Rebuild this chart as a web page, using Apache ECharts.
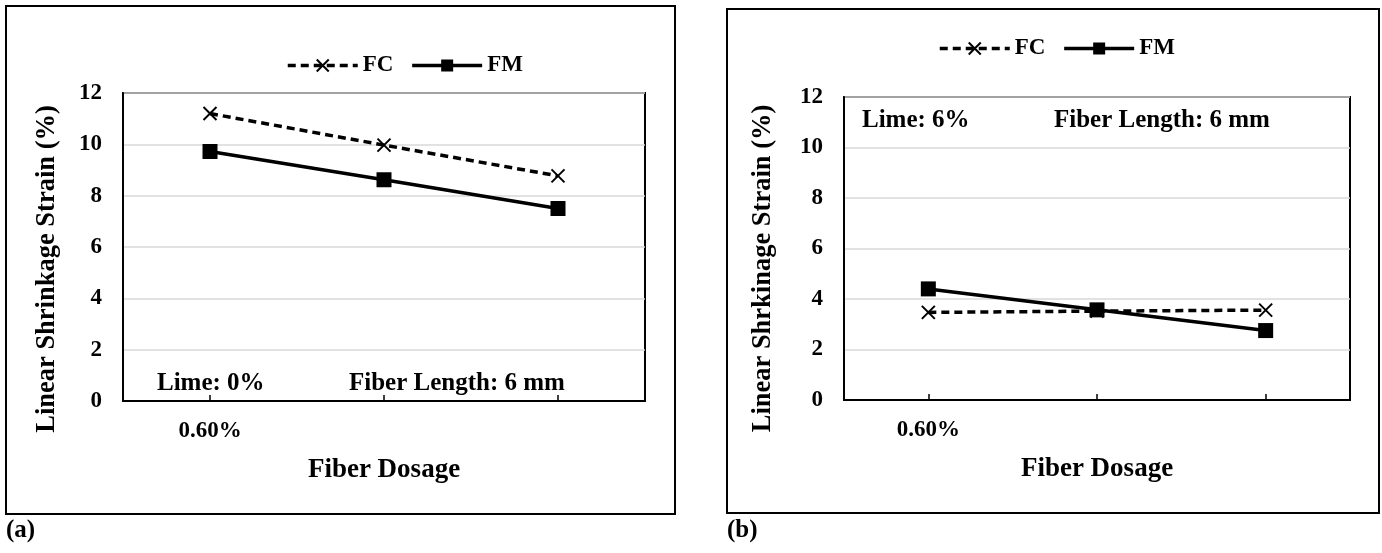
<!DOCTYPE html>
<html>
<head>
<meta charset="utf-8">
<script src="https://cdn.jsdelivr.net/npm/echarts@6/dist/echarts.min.js"></script>
<style>
html,body{margin:0;padding:0;background:#fff;}
#c{width:1382px;height:553px;}
</style>
</head>
<body>
<div id="c"></div>
<script>
// ---- data ----
const categories = ['0.60%', '', ''];
const yTicks = [0, 2, 4, 6, 8, 10, 12];
const fcA = [11.2, 9.97, 8.77];
const fmA = [9.72, 8.62, 7.5];
const fcB = [3.47, 3.52, 3.56];
const fmB = [4.4, 3.57, 2.75];
const seriesNames = ['FC', 'FM'];
const yNameA = 'Linear Shrinkage Strain (%)';
const yNameB = 'Linear Shrkinage Strain (%)';
const xName = 'Fiber Dosage';
const notesA = ['Lime: 0%', 'Fiber Length: 6 mm'];
const notesB = ['Lime: 6%', 'Fiber Length: 6 mm'];
const panelLabels = ['(a)', '(b)'];

const FONT = '"Liberation Serif", "Times New Roman", serif';
const crossPath = 'path://M0,0L10,10M10,0L0,10';

function xAxis(gi) {
  return {
    type: 'category', gridIndex: gi, data: categories, boundaryGap: true,
    name: xName, nameLocation: 'middle', nameGap: 56,
    nameTextStyle: {fontFamily: FONT, fontWeight: 'bold', fontSize: 27, color: '#000'},
    axisLine: {lineStyle: {color: '#000', width: 2}},
    axisTick: {show: true, inside: true, alignWithLabel: true, length: 6, lineStyle: {color: '#000', width: 1.5}},
    axisLabel: {fontFamily: FONT, fontWeight: 'bold', fontSize: 23, color: '#000', margin: 19},
    splitLine: {show: false}
  };
}
function yAxis(gi, name, gap, shift) {
  return {
    type: 'value', gridIndex: gi, min: yTicks[0], max: yTicks[yTicks.length - 1], interval: 2,
    name: name, nameLocation: 'middle', nameGap: gap,
    nameTextStyle: {fontFamily: FONT, fontWeight: 'bold', fontSize: 26.5, color: '#000', padding: [0, shift, 0, 0]},
    axisLine: {show: true, lineStyle: {color: '#000', width: 2}},
    axisTick: {show: false},
    axisLabel: {fontFamily: FONT, fontWeight: 'bold', fontSize: 23, color: '#000', margin: 21},
    splitLine: {show: true, lineStyle: {color: '#d9d9d9', width: 1.5}}
  };
}
function fcSeries(gi, data) {
  return {
    name: seriesNames[0], type: 'line', xAxisIndex: gi, yAxisIndex: gi, data: data,
    symbol: crossPath, symbolSize: 13,
    itemStyle: {color: '#000', borderColor: '#000', borderWidth: 2},
    lineStyle: {color: '#000', width: 3.5, type: [8, 5]},
    animation: false, z: 3
  };
}
function fmSeries(gi, data) {
  return {
    name: seriesNames[1], type: 'line', xAxisIndex: gi, yAxisIndex: gi, data: data,
    symbol: 'rect', symbolSize: 15,
    itemStyle: {color: '#000'},
    lineStyle: {color: '#000', width: 3.5, type: 'solid'},
    animation: false, z: 4
  };
}
function legend(left, top) {
  return {
    left: left, top: top, orient: 'horizontal', itemWidth: 70, itemHeight: 15, itemGap: 17,
    lineStyle: {width: 3.5},
    textStyle: {fontFamily: FONT, fontWeight: 'bold', fontSize: 23, color: '#000', padding: [0, 0, 0, 0]},
    data: seriesNames
  };
}

const chart = echarts.init(document.getElementById('c'), null, {renderer: 'canvas'});
const option = {
  backgroundColor: '#fff',
  animation: false,
  legend: [legend(281, 49), legend(933, 32)],
  grid: [
    {left: 123, top: 93, width: 522, height: 308, show: true, borderColor: '#000', borderWidth: 2, containLabel: false},
    {left: 844, top: 97, width: 506, height: 303, show: true, borderColor: '#000', borderWidth: 2, containLabel: false}
  ],
  xAxis: [xAxis(0), xAxis(1)],
  yAxis: [yAxis(0, yNameA, 62, 44), yAxis(1, yNameB, 67, 40)],
  series: [fcSeries(0, fcA), fmSeries(0, fmA), fcSeries(1, fcB), fmSeries(1, fmB)],
  graphic: [
    {type: 'rect', shape: {x: 6, y: 6, width: 669, height: 508}, style: {fill: 'none', stroke: '#000', lineWidth: 2}, silent: true},
    {type: 'rect', shape: {x: 727, y: 9, width: 652, height: 504}, style: {fill: 'none', stroke: '#000', lineWidth: 2}, silent: true},
    {type: 'text', left: 6, top: 518, style: {text: panelLabels[0], fill: '#000', font: 'bold 25px ' + FONT}},
    {type: 'text', left: 727, top: 518, style: {text: panelLabels[1], fill: '#000', font: 'bold 25px ' + FONT}},
    {type: 'text', left: 157, top: 371, style: {text: notesA[0], fill: '#000', font: 'bold 25px ' + FONT}},
    {type: 'text', left: 349, top: 371, style: {text: notesA[1], fill: '#000', font: 'bold 25px ' + FONT}},
    {type: 'text', left: 862, top: 108, style: {text: notesB[0], fill: '#000', font: 'bold 25px ' + FONT}},
    {type: 'text', left: 1054, top: 108, style: {text: notesB[1], fill: '#000', font: 'bold 25px ' + FONT}}
  ]
};
chart.setOption(option);
</script>
</body>
</html>
